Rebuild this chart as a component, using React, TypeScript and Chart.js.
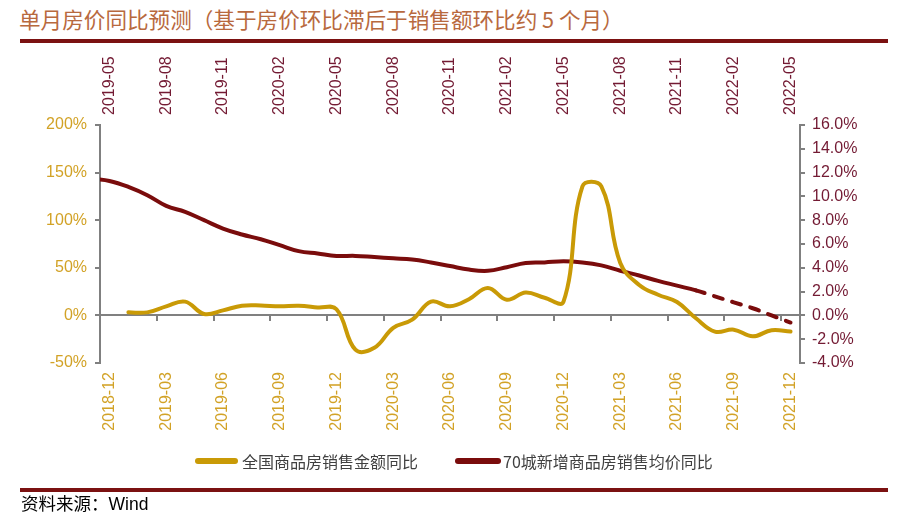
import React, { useEffect, useRef } from 'react';
import { Chart, registerables } from 'chart.js';

Chart.register(...registerables);

// ---------- data ----------
const bottomMonths = [
  '2018-12',
  '2019-01', '2019-02', '2019-03', '2019-04', '2019-05', '2019-06', '2019-07', '2019-08', '2019-09', '2019-10', '2019-11', '2019-12',
  '2020-01', '2020-02', '2020-03', '2020-04', '2020-05', '2020-06', '2020-07', '2020-08', '2020-09', '2020-10', '2020-11', '2020-12',
  '2021-01', '2021-02', '2021-03', '2021-04', '2021-05', '2021-06', '2021-07', '2021-08', '2021-09', '2021-10', '2021-11', '2021-12',
];

const topMonths = [
  '2019-05', '2019-06', '2019-07', '2019-08', '2019-09', '2019-10', '2019-11', '2019-12',
  '2020-01', '2020-02', '2020-03', '2020-04', '2020-05', '2020-06', '2020-07', '2020-08', '2020-09', '2020-10', '2020-11', '2020-12',
  '2021-01', '2021-02', '2021-03', '2021-04', '2021-05', '2021-06', '2021-07', '2021-08', '2021-09', '2021-10', '2021-11', '2021-12',
  '2022-01', '2022-02', '2022-03', '2022-04', '2022-05',
];

// 全国商品房销售金额同比 (%), 2019-01 .. 2021-12, left axis
const salesName = '全国商品房销售金额同比';
const salesStart = '2019-01';
const salesYoY = [
  3.2, 3.2, 9.5, 14.5, 1.5, 5.3, 10.2, 10.5, 9.5, 10.2, 8.4, 6.5,
  -36, -34, -13, -4.5, 14.5, 9.5, 17, 28.8, 16.5, 24, 18.5, 14.5,
  135.5, 135.5, 55, 32, 21.7, 14, -3, -17, -15, -22, -15.5, -17,
];

// 70城新增商品房销售均价同比 (%), 2019-04 .. 2022-05, right axis (top month axis)
const priceName = '70城新增商品房销售均价同比';
const priceStart = '2019-04';
const priceYoY = [
  11.5,
  11.3, 10.8, 10.1, 9.2, 8.7, 8.0, 7.3, 6.8,
  6.4, 5.9, 5.4, 5.2, 5.0, 5.0, 4.9, 4.8, 4.7, 4.45, 4.15, 3.85,
  3.75, 4.05, 4.4, 4.45, 4.55, 4.45, 4.2, 3.75, 3.35, 2.9, 2.5, 2.1,
  1.6, 1.1, 0.6, 0.0, -0.6,
];
const forecastFrom = '2021-12'; // dashed segments start after this month

const leftTicks = { min: -50, max: 200, step: 50 };
const rightTicks = { min: -4, max: 16, step: 2 };

const titleText = '单月房价同比预测（基于房价环比滞后于销售额环比约 5 个月）';
const sourceText = '资料来源：Wind';

// ---------- styles ----------
const GOLD = '#C99A06';
const RED = '#7A0C0C';
const GREY = '#808080';
const GOLD_TXT = '#D2A226';
const MAROON_TXT = '#731A33';
const BAR = '#7B1111';
const tickFont = { family: '"Liberation Sans", Arial, sans-serif', size: 16, lineHeight: 1.2 };

function monthDiff(a: string, b: string) {
  const [ya, ma] = a.split('-').map(Number);
  const [yb, mb] = b.split('-').map(Number);
  return (yb - ya) * 12 + (mb - ma);
}

export default function App() {
  const ref = useRef<HTMLCanvasElement | null>(null);

  useEffect(() => {
    if (!ref.current) return;
    const salesOffset = monthDiff(bottomMonths[0], salesStart);
    const priceOffset = monthDiff(topMonths[0], priceStart);
    const forecastIdx = monthDiff(priceStart, forecastFrom);

    const chart = new Chart(ref.current, {
      type: 'line',
      data: {
        datasets: [
          {
            label: salesName,
            data: salesYoY.map((v, i) => ({ x: i + salesOffset, y: v })),
            xAxisID: 'x',
            yAxisID: 'y',
            borderColor: GOLD,
            backgroundColor: GOLD,
            borderWidth: 4,
            pointRadius: 0,
            tension: 0.4,
            borderCapStyle: 'round',
            borderJoinStyle: 'round',
            fill: false,
          },
          {
            label: priceName,
            data: priceYoY.map((v, i) => ({ x: i + priceOffset, y: v })),
            xAxisID: 'x',
            yAxisID: 'y1',
            borderColor: RED,
            backgroundColor: RED,
            borderWidth: 4,
            pointRadius: 0,
            tension: 0.4,
            borderCapStyle: 'round',
            borderJoinStyle: 'round',
            fill: false,
            segment: {
              borderDash: (ctx: any) => (ctx.p0DataIndex >= forecastIdx ? [9, 10] : undefined),
            },
          },
        ],
      },
      options: {
        responsive: false,
        animation: false,
        events: [],
        layout: { padding: 0 },
        plugins: {
          tooltip: { enabled: false },
          legend: { display: false },
        },
        scales: {
          x: {
            type: 'linear',
            display: false,
            min: -0.5,
            max: bottomMonths.length - 0.5,
          },
          xb: {
            type: 'category',
            labels: bottomMonths,
            position: 'bottom',
            offset: true,
            grid: { display: false, drawTicks: false },
            border: { display: false },
            ticks: {
              autoSkip: false,
              minRotation: 90,
              maxRotation: 90,
              padding: 9,
              color: GOLD_TXT,
              font: tickFont,
              callback: (_v: any, i: number) => (i % 3 === 0 ? bottomMonths[i] : ''),
            },
            afterFit: (s: any) => { s.height = 155; },
          },
          xt: {
            type: 'category',
            labels: topMonths,
            position: 'top',
            offset: true,
            grid: { display: false, drawTicks: false },
            border: { display: false },
            ticks: {
              autoSkip: false,
              minRotation: 90,
              maxRotation: 90,
              padding: 10,
              labelOffset: 19.2,
              color: MAROON_TXT,
              font: tickFont,
              callback: (_v: any, i: number) => (i % 3 === 0 ? topMonths[i] : ''),
            },
            afterFit: (s: any) => { s.height = 125; },
          },
          x0: {
            type: 'category',
            labels: bottomMonths,
            position: { y: 0 },
            offset: true,
            ticks: { display: false, autoSkip: false },
            grid: {
              offset: true,
              drawOnChartArea: false,
              drawTicks: true,
              tickLength: 5,
              lineWidth: 2,
              tickWidth: 2,
              tickColor: (ctx: any) => (ctx.index !== undefined && ctx.index % 3 === 0 ? GREY : 'rgba(0,0,0,0)'),
            },
            border: { color: GREY, width: 2 },
          },
          y: {
            type: 'linear',
            position: 'left',
            min: leftTicks.min,
            max: leftTicks.max,
            grid: { drawOnChartArea: false, drawTicks: true, tickLength: 5, color: GREY, lineWidth: 2 },
            border: { color: GREY, width: 2 },
            ticks: {
              stepSize: leftTicks.step,
              padding: 8,
              color: GOLD_TXT,
              font: tickFont,
              callback: (v: any) => `${v}%`,
            },
            afterFit: (s: any) => { s.width = 100; },
          },
          y1: {
            type: 'linear',
            position: 'right',
            min: rightTicks.min,
            max: rightTicks.max,
            grid: { drawOnChartArea: false, drawTicks: true, tickLength: 5, color: GREY, lineWidth: 2 },
            border: { color: GREY, width: 2 },
            ticks: {
              stepSize: rightTicks.step,
              padding: 7,
              color: MAROON_TXT,
              font: tickFont,
              callback: (v: any) => `${Number(v).toFixed(1)}%`,
            },
            afterFit: (s: any) => { s.width = 102; },
          },
        },
      } as any,
    });
    return () => chart.destroy();
  }, []);

  const legendText: React.CSSProperties = {
    position: 'absolute', top: 451, fontSize: 16, lineHeight: '20px',
    fontFamily: '"Noto Sans CJK SC", sans-serif', color: '#404040', whiteSpace: 'nowrap',
  };

  return (
    <div style={{ position: 'absolute', left: 0, top: 0, width: 902, height: 518, background: '#fff', overflow: 'hidden' }}>
      <div
        style={{
          position: 'absolute', left: 19, top: 5, fontSize: 21.6, lineHeight: '28px',
          fontFamily: '"Noto Sans CJK SC", sans-serif', color: '#B8693E', whiteSpace: 'nowrap',
        }}
      >
        {titleText}
      </div>
      <div style={{ position: 'absolute', left: 20, top: 39, width: 868, height: 4, background: BAR }} />
      <canvas ref={ref} width={902} height={518} style={{ position: 'absolute', left: 0, top: 0 }} />
      {/* legend */}
      <div style={{ position: 'absolute', left: 195, top: 458, width: 43, height: 6, borderRadius: 3, background: GOLD }} />
      <div style={{ ...legendText, left: 242 }}>{salesName}</div>
      <div style={{ position: 'absolute', left: 455, top: 458, width: 46, height: 6, borderRadius: 3, background: RED }} />
      <div style={{ ...legendText, left: 503 }}>{priceName}</div>
      <div style={{ position: 'absolute', left: 20, top: 488, width: 868, height: 4, background: BAR }} />
      <div
        style={{
          position: 'absolute', left: 21, top: 494, fontSize: 17.5, lineHeight: '20px',
          fontFamily: '"Liberation Sans", "Noto Sans CJK SC", sans-serif', color: '#000', whiteSpace: 'nowrap',
        }}
      >
        {sourceText}
      </div>
    </div>
  );
}
